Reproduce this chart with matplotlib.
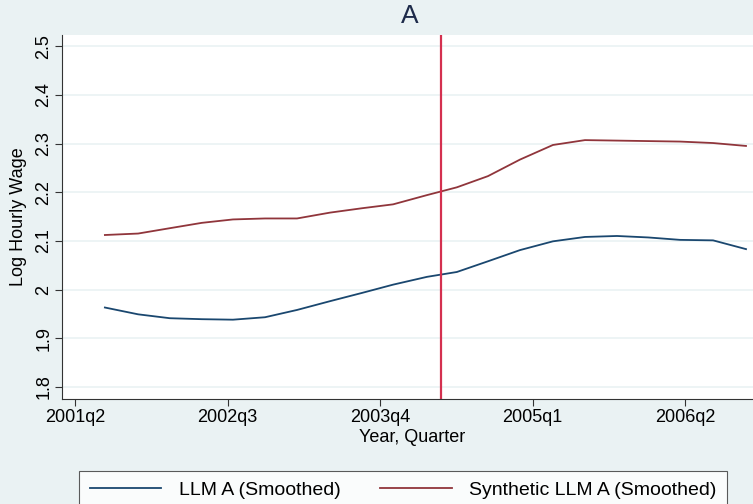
import matplotlib
matplotlib.use("Agg")
import matplotlib.pyplot as plt

# quarter positions (0 = 2001q2)
quarter = [0.98, 2.07, 3.11, 4.16, 5.18, 6.23, 7.28, 8.36, 9.41, 10.43, 11.54,
           12.52, 13.54, 14.59, 15.67, 16.72, 17.77, 18.79, 19.84, 20.92, 22.0]

llm_a = [1.963, 1.949, 1.941, 1.939, 1.938, 1.943, 1.958, 1.976, 1.993, 2.010, 2.026,
         2.036, 2.058, 2.081, 2.099, 2.108, 2.110, 2.107, 2.102, 2.101, 2.083]

synth_llm_a = [2.112, 2.115, 2.126, 2.137, 2.144, 2.146, 2.146, 2.158, 2.167, 2.175, 2.194,
               2.210, 2.233, 2.267, 2.297, 2.307, 2.306, 2.305, 2.304, 2.301, 2.295]

treat_q = 12  # 2004q2
tick_q = [0, 5, 10, 15, 20]
tick_labels = ["2001q2", "2002q3", "2003q4", "2005q1", "2006q2"]
y_ticks = [1.8, 1.9, 2.0, 2.1, 2.2, 2.3, 2.4, 2.5]
y_labels = ["1.8", "1.9", "2", "2.1", "2.2", "2.3", "2.4", "2.5"]

plt.rcParams['font.family'] = ['Liberation Sans', 'DejaVu Sans']

bg = "#eaf2f3"
fig = plt.figure(figsize=(7.53, 5.04), dpi=100, facecolor=bg)
W, H = 753, 504
ax = fig.add_axes([62 / W, (H - 399) / H, (762 - 62) / W, (399 - 35) / H])
ax.set_facecolor("white")

ax.plot(quarter, llm_a, color="#1a476f", lw=1.3, label="LLM A (Smoothed)")
ax.plot(quarter, synth_llm_a, color="#90353b", lw=1.3, label="Synthetic LLM A (Smoothed)")
ax.axvline(treat_q, color="#d4304f", lw=1.6)

ax.set_xlim((62 - 75) / 30.5, (762 - 75) / 30.5)
ax.set_ylim(1.775, 2.523)
ax.set_xticks(tick_q)
ax.set_xticklabels(tick_labels, fontsize=13)
ax.set_yticks(y_ticks)
ax.set_yticklabels(y_labels, fontsize=13, rotation=90, va="center")
ax.grid(axis="y", color=bg, lw=1.2)
ax.set_axisbelow(True)
ax.tick_params(axis="both", length=5, width=0.8, color="#333333", pad=2)

for s in ["top", "right"]:
    ax.spines[s].set_visible(False)
for s in ["left", "bottom"]:
    ax.spines[s].set_color("#333333")
    ax.spines[s].set_linewidth(0.8)

ax.set_xlabel("Year, Quarter", fontsize=13, labelpad=2)
ax.set_ylabel("Log Hourly Wage", fontsize=13, labelpad=6)

fig.text(410 / W, 1 - 16 / H, "A", fontsize=19, color="#1e2b4a", ha="center", va="center")

leg = fig.legend(loc="upper center", bbox_to_anchor=(403 / W, 1 - 461 / H), ncol=2,
                 fontsize=14, frameon=True, fancybox=False, edgecolor="#333333",
                 handlelength=3.7, handletextpad=0.9, columnspacing=2.0, borderpad=0.55)
leg.get_frame().set_linewidth(0.8)

fig.savefig("out.png", dpi=100, facecolor=bg)
